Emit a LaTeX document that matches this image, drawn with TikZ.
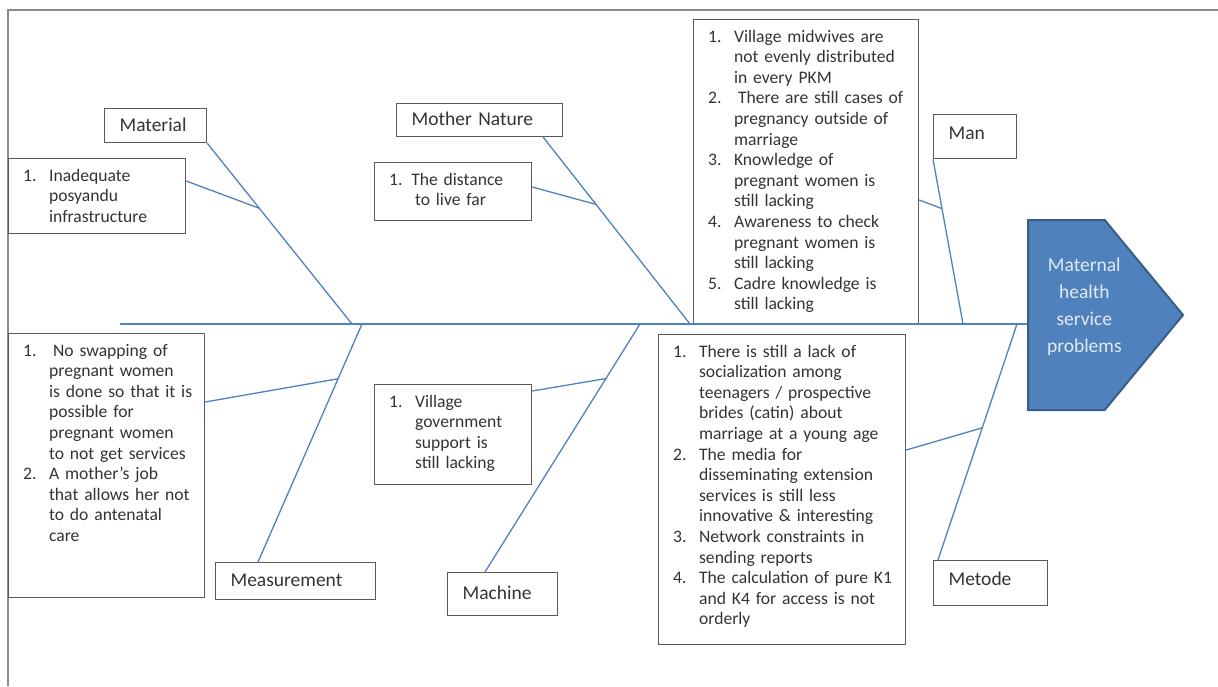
\documentclass[tikz,border=0pt]{standalone}
\usepackage{fontspec}
\setmainfont{Carlito}
\usetikzlibrary{positioning, calc, shapes.symbols}
\definecolor{boneblue}{HTML}{4F81BD}
\definecolor{boxline}{HTML}{5A5A5A}
\definecolor{frameline}{HTML}{8C8C8C}
\definecolor{headline}{HTML}{385D8A}
\definecolor{headtext}{HTML}{E3EAF5}
\definecolor{ink}{HTML}{333333}
\newcommand{\bitem}[2]{\makebox[26pt][l]{#1}\mbox{#2}}
\newcommand{\bline}[1]{\hspace*{26pt}\mbox{#1}}
\tikzset{
  bone/.style={draw=boneblue, line width=1.3pt},
  frame/.style={draw=frameline, line width=2pt},
  category/.style={draw=boxline, line width=1.2pt, anchor=north west, text=ink,
    font=\fontsize{19.5pt}{23pt}\selectfont, align=left, inner xsep=15pt,
    inner ysep=0pt, text height=13pt, text depth=2pt},
  causes/.style={draw=boxline, line width=1.2pt, anchor=north west, text=ink,
    font=\fontsize{17.6pt}{20.6pt}\selectfont, align=left, inner xsep=14.5pt,
    inner ysep=0pt, text height=22.5pt},
  effect/.style={signal, signal to=east, signal pointer angle=101, fill=boneblue,
    draw=headline, line width=2pt, anchor=west,
    minimum width=155pt, minimum height=190pt},
  effect text/.style={text=headtext, align=center, xshift=18pt, yshift=8pt,
    font=\fontsize{19.5pt}{27pt}\selectfont},
}
\begin{document}
\begin{tikzpicture}[x=1pt, y=-1pt]
  \useasboundingbox (0,0) rectangle (1218,686);
  \draw[frame] (1218,10) -- (8,10) -- (8,686);

  \node[category, text width=72pt, minimum height=34pt] (mat) at (104,108) {Material};
  \node[category, text width=136pt, minimum height=33pt] (nat) at (396,103) {Mother Nature};
  \node[category, text width=53pt, minimum height=44pt, text depth=8pt] (man) at (933,114) {Man};
  \node[category, text width=130pt, minimum height=37pt] (meas) at (215,562) {Measurement};
  \node[category, text width=80pt, minimum height=43pt] (mach) at (447,572) {Machine};
  \node[category, text width=84pt, minimum height=45pt, text depth=8pt] (meth) at (933,560) {Metode};

  \node[causes, text width=148pt, text depth=52pt] (matlist) at (8,158)
    {\bitem{1.}{Inadequate}\\\bline{posyandu}\\\bline{infrastructure}};
  \node[causes, text width=128pt, text depth=35pt] (natlist) at (374,162)
    {\mbox{1. The distance}\\\bline{to live far}};
  \node[causes, text width=196pt, text depth=281pt] (manlist) at (693,19)
    {\bitem{1.}{Village midwives are}\\\bline{not evenly distributed}\\\bline{in every PKM}\\
     \bitem{2.}{\hspace{4pt}There are still cases of}\\\bline{pregnancy outside of}\\\bline{marriage}\\
     \bitem{3.}{Knowledge of}\\\bline{pregnant women is}\\\bline{still lacking}\\
     \bitem{4.}{Awareness to check}\\\bline{pregnant women is}\\\bline{still lacking}\\
     \bitem{5.}{Cadre knowledge is}\\\bline{still lacking}};
  \node[causes, text width=167pt, text depth=241pt] (measlist) at (8,333)
    {\bitem{1.}{\hspace{4pt}No swapping of}\\\bline{pregnant women}\\\bline{is done so that it is}\\
     \bline{possible for}\\\bline{pregnant women}\\\bline{to not get services}\\
     \bitem{2.}{A mother’s job}\\\bline{that allows her not}\\\bline{to do antenatal}\\\bline{care}};
  \node[causes, text width=128pt, text depth=77pt] (machlist) at (374,384)
    {\bitem{1.}{Village}\\\bline{government}\\\bline{support is}\\\bline{still lacking}};
  \node[causes, text width=218pt, text depth=287pt] (methlist) at (658,334)
    {\bitem{1.}{There is still a lack of}\\\bline{socialization among}\\\bline{teenagers / prospective}\\
     \bline{brides (catin) about}\\\bline{marriage at a young age}\\
     \bitem{2.}{The media for}\\\bline{disseminating extension}\\\bline{services is still less}\\
     \bline{innovative \& interesting}\\
     \bitem{3.}{Network constraints in}\\\bline{sending reports}\\
     \bitem{4.}{The calculation of pure K1}\\\bline{and K4 for access is not}\\\bline{orderly}};

  \node[effect, label={[effect text]center:{Maternal\\health\\service\\problems}}] (goal) at (1027,315) {};

  \coordinate (tail) at (120,324);
  \coordinate (smat) at (352,324);
  \coordinate (snat) at (690,324);
  \coordinate (sman) at (963,324);
  \coordinate (smeas) at (362,324);
  \coordinate (smach) at (640,324);
  \coordinate (smeth) at (1017,324);

  \coordinate (bmat) at (mat.south east);
  \coordinate (bnat) at ([xshift=-20pt]nat.south east);
  \coordinate (bman) at (man.south west);
  \coordinate (bmeas) at ([xshift=43pt]meas.north west);
  \coordinate (bmach) at ([xshift=38pt]mach.north west);
  \coordinate (bmeth) at ([xshift=5pt]meth.north west);

  \coordinate (jmat) at ($(bmat)!0.36!(smat)$);
  \coordinate (jnat) at ($(bnat)!0.36!(snat)$);
  \coordinate (jman) at ($(bman)!0.3!(sman)$);
  \coordinate (jmeas) at ($(bmeas)!0.77!(smeas)$);
  \coordinate (jmach) at ($(bmach)!0.78!(smach)$);
  \coordinate (jmeth) at ($(bmeth)!0.56!(smeth)$);

  \draw[bone] (tail) -- (tail -| goal.west);
  \draw[bone] (bmat) -- (smat);
  \draw[bone] (bnat) -- (snat);
  \draw[bone] (bman) -- (sman);
  \draw[bone] (bmeas) -- (smeas);
  \draw[bone] (bmach) -- (smach);
  \draw[bone] (bmeth) -- (smeth);

  \draw[bone] ([yshift=-23pt]matlist.north east) -- (jmat);
  \draw[bone] ([yshift=-25pt]natlist.north east) -- (jnat);
  \draw[bone] ([yshift=-181pt]manlist.north east) -- (jman);
  \draw[bone] ([yshift=-69pt]measlist.north east) -- (jmeas);
  \draw[bone] ([yshift=-7pt]machlist.north east) -- (jmach);
  \draw[bone] ([yshift=-116pt]methlist.north east) -- (jmeth);
\end{tikzpicture}
\end{document}
